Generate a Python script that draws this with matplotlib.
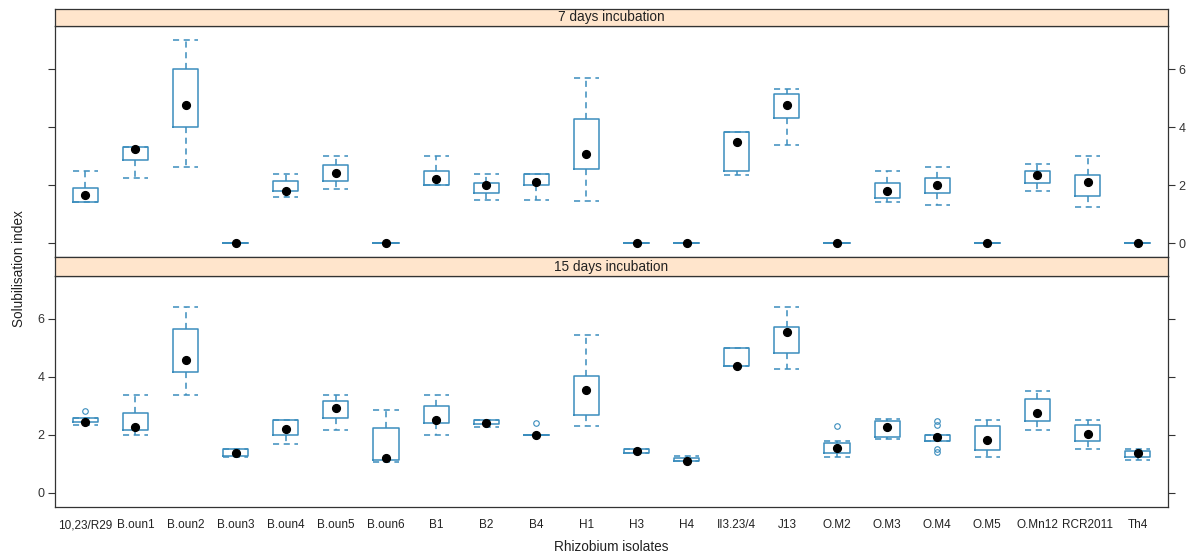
import numpy as np
import matplotlib
matplotlib.use("Agg")
import matplotlib.pyplot as plt

plt.rcParams['font.family'] = ['Liberation Sans', 'DejaVu Sans']

isolates = ['10,23/R29', 'B.oun1', 'B.oun2', 'B.oun3', 'B.oun4', 'B.oun5',
            'B.oun6', 'B1', 'B2', 'B4', 'H1', 'H3', 'H4', 'II3.23/4', 'J13',
            'O.M2', 'O.M3', 'O.M4', 'O.M5', 'O.Mn12', 'RCR2011', 'Th4']

# 7 days incubation
d7_lo  = [1.42, 2.24, 2.63, 0, 1.59, 1.86, 0, 1.99, 1.48, 1.48, 1.46, 0, 0, 2.34, 3.38,
          0, 1.43, 1.33, 0, 1.80, 1.24, 0]
d7_q1  = [1.42, 2.86, 4.00, 0, 1.79, 2.15, 0, 1.99, 1.73, 1.99, 2.55, 0, 0, 2.48, 4.31,
          0, 1.55, 1.74, 0, 2.08, 1.61, 0]
d7_med = [1.67, 3.26, 4.77, 0, 1.81, 2.41, 0, 2.21, 2.00, 2.10, 3.08, 0, 0, 3.48, 4.77,
          0, 1.79, 2.01, 0, 2.36, 2.10, 0]
d7_q3  = [1.90, 3.32, 6.01, 0, 2.15, 2.69, 0, 2.49, 2.09, 2.40, 4.29, 0, 0, 3.85, 5.14,
          0, 2.06, 2.24, 0, 2.49, 2.34, 0]
d7_hi  = [2.49, 3.32, 7.00, 0, 2.40, 3.01, 0, 3.00, 2.40, 2.40, 5.70, 0, 0, 3.85, 5.32,
          0, 2.49, 2.62, 0, 2.74, 3.01, 0]
d7_out = {}

# 15 days incubation
d15_lo  = [2.34, 2.00, 3.39, 1.22, 1.69, 2.18, 1.06, 2.00, 2.27, 2.00, 2.32, 1.37, 1.08, 4.36, 4.26,
           1.24, 1.86, 1.78, 1.24, 2.18, 1.50, 1.13]
d15_q1  = [2.43, 2.18, 4.18, 1.28, 1.99, 2.58, 1.12, 2.40, 2.37, 2.00, 2.68, 1.37, 1.10, 4.36, 4.83,
           1.38, 1.91, 1.80, 1.46, 2.49, 1.77, 1.24]
d15_med = [2.44, 2.26, 4.57, 1.38, 2.19, 2.91, 1.20, 2.52, 2.42, 2.01, 3.54, 1.45, 1.11, 4.39, 5.54,
           1.54, 2.26, 1.92, 1.83, 2.76, 2.02, 1.39]
d15_q3  = [2.57, 2.74, 5.64, 1.50, 2.50, 3.18, 2.25, 3.00, 2.50, 2.00, 4.03, 1.51, 1.21, 4.99, 5.71,
           1.71, 2.47, 1.99, 2.31, 3.22, 2.34, 1.44]
d15_hi  = [2.57, 3.39, 6.40, 1.50, 2.50, 3.39, 2.85, 3.39, 2.50, 2.00, 5.43, 1.51, 1.28, 4.99, 6.40,
           1.77, 2.56, 2.00, 2.50, 3.50, 2.50, 1.51]
d15_out = {'10,23/R29': [2.82], 'B4': [2.41], 'O.M2': [2.30], 'O.M4': [2.47, 2.35, 1.51, 1.42]}

box_col = '#3b8dbd'
strip_col = '#ffe5cc'
frame_col = '#333333'

W, H = 1192, 559
fig = plt.figure(figsize=(W / 100, H / 100), dpi=100)

left = 55.3 / W
width = (1167.7 - 55.3) / W


def panel(top_px, bot_px, strip_top_px, title, lo, q1, med, q3, hi, out, left_labels):
    ax = fig.add_axes([left, 1 - bot_px / H, width, (bot_px - top_px) / H])
    stats = []
    for i, name in enumerate(isolates):
        stats.append(dict(whislo=lo[i], q1=q1[i], med=med[i], q3=q3[i],
                          whishi=hi[i], fliers=out.get(name, [])))
    pos = np.arange(1, len(isolates) + 1)
    ax.bxp(stats, positions=pos, widths=0.5, capwidths=0.5,
           boxprops=dict(color=box_col, lw=1.1),
           whiskerprops=dict(color=box_col, lw=1.1, ls=(0, (4, 3))),
           capprops=dict(color=box_col, lw=1.1, ls=(0, (4, 3))),
           medianprops=dict(visible=False),
           flierprops=dict(marker='o', ms=4, mfc='none', mec=box_col, mew=0.8))
    ax.plot(pos, med, 'o', color='black', ms=5.6, zorder=5)
    ax.set_xlim(0.4, len(isolates) + 0.6)
    ax.set_ylim(-0.49, 7.49)
    ax.set_yticks([0, 2, 4, 6])
    ax.tick_params(axis='y', left=True, right=True, labelleft=left_labels,
                   labelright=not left_labels, length=5, width=0.8,
                   colors=frame_col, labelsize=9, pad=3)
    for s in ax.spines.values():
        s.set_color(frame_col)
        s.set_linewidth(0.9)

    sax = fig.add_axes([left, 1 - top_px / H, width, (top_px - strip_top_px) / H])
    sax.set_facecolor(strip_col)
    sax.set_xticks([])
    sax.set_yticks([])
    for s in sax.spines.values():
        s.set_color(frame_col)
        s.set_linewidth(0.9)
    sax.text(0.5, 0.5, title, ha='center', va='center', fontsize=9.8, color='#222222',
             transform=sax.transAxes)
    return ax


ax_top = panel(26, 257.3, 9, '7 days incubation',
               d7_lo, d7_q1, d7_med, d7_q3, d7_hi, d7_out, left_labels=False)
ax_top.tick_params(axis='x', bottom=False, labelbottom=False)

ax_bot = panel(275.7, 507, 257.3, '15 days incubation',
               d15_lo, d15_q1, d15_med, d15_q3, d15_hi, d15_out, left_labels=True)
ax_bot.set_xticks(np.arange(1, len(isolates) + 1))
ax_bot.set_xticklabels(isolates)
ax_bot.tick_params(axis='x', length=0, pad=9, labelsize=8.5, colors='#222222')

fig.text(0.513, 0.022, 'Rhizobium isolates', ha='center', va='center',
         fontsize=9.8, color='#222222')
fig.text(0.016, 0.52, 'Solubilisation index', ha='center', va='center',
         rotation=90, fontsize=9.8, color='#222222')

fig.savefig('out.png', dpi=100)
